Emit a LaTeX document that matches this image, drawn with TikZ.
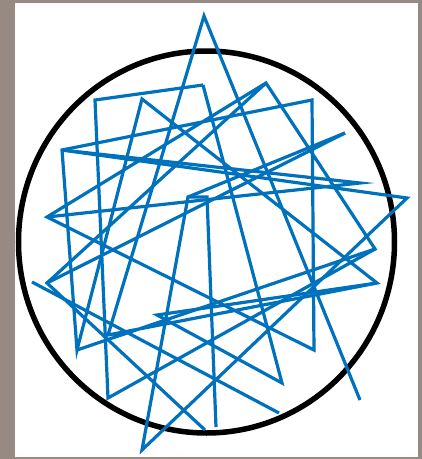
\documentclass[tikz,border=0pt]{standalone}
\begin{document}
\begin{tikzpicture}[x=1pt,y=-1pt,
  walk/.style={draw={rgb,255:red,0;green,114;blue,189},line width=3.2pt,line join=miter,line cap=butt},
  ring/.style={draw=black,line width=5.5pt}]
\definecolor{framecol}{RGB}{150,138,130}
\fill[framecol] (0,0) rectangle (422,459);
\fill[white] (15,3) rectangle (418,457);
\useasboundingbox (0,0) rectangle (422,459);
\draw[ring] (206.5,242) ellipse [x radius=188, y radius=191];
% vertices
\coordinate (a) at (204,16);
\coordinate (b) at (95,100);
\coordinate (c) at (203,85);
\coordinate (d) at (142,99);
\coordinate (e) at (266,83);
\coordinate (f) at (312,100);
\coordinate (g) at (62,150);
\coordinate (h) at (345,133);
\coordinate (i) at (360,183);
\coordinate (j) at (407,198);
\coordinate (k) at (375,249);
\coordinate (l) at (377,283);
\coordinate (m) at (47,217);
\coordinate (o) at (188,197);
\coordinate (o2) at (207,197);
\coordinate (p) at (47,283);
\coordinate (n) at (32,282);
\coordinate (q) at (77,350);
\coordinate (r) at (108,335);
\coordinate (s) at (108,398);
\coordinate (t) at (142,450);
\coordinate (u) at (157,315);
\coordinate (v) at (314,350);
\coordinate (w) at (282,383);
\coordinate (x) at (360,400);
\coordinate (y) at (216,427);
\coordinate (z1) at (205,430);
\coordinate (z2) at (279,413);
\draw[walk] (x) -- (a) -- (r) -- (l) -- (d) -- (q) -- (g) -- (f) -- (v) -- (m) -- (e) -- (k) -- (q);
\draw[walk] (c) -- (b) -- (s) -- (k);
\draw[walk] (c) -- (w) -- (u) -- (l);
\draw[walk] (z1) -- (p) -- (e);
\draw[walk] (n) -- (z2);
\draw[walk] (y) -- (o2) -- (o) -- (t) -- (j) -- (g);
\draw[walk] (g) -- (i) -- (m);
\draw[walk] (h) -- (p);
\draw[walk] (h) -- (o);
\end{tikzpicture}
\end{document}
